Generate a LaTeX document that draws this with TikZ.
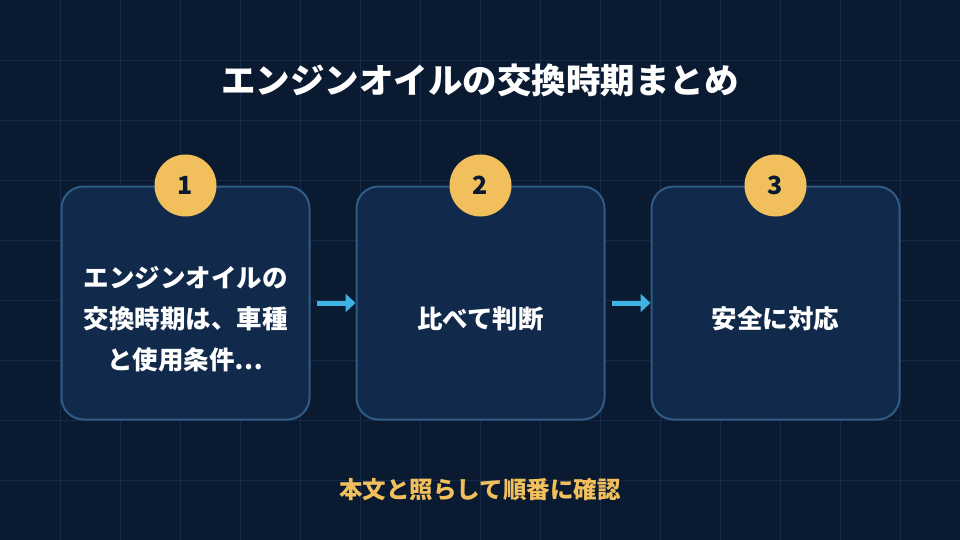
\documentclass[tikz,border=0pt]{standalone}
\usepackage{fontspec}
\setmainfont{Noto Sans CJK JP}
\usetikzlibrary{positioning,arrows.meta}
\definecolor{bgcol}{HTML}{0A1A31}
\definecolor{gridcol}{HTML}{15294A}
\definecolor{cardcol}{HTML}{112A4B}
\definecolor{edgecol}{HTML}{2F5B84}
\definecolor{goldcol}{HTML}{F1C05C}
\definecolor{arrowcol}{HTML}{3FB3E6}
\tikzset{
  card/.style={draw=edgecol,line width=2pt,fill=cardcol,rounded corners=22pt,
    minimum width=248pt,minimum height=233pt,inner sep=0pt},
  cardtext/.style={text=white,font=\fontsize{25.5}{41}\selectfont\bfseries,
    align=center,inner sep=0pt},
  badge/.style={circle,fill=goldcol,minimum size=62pt,inner sep=0pt,
    text=bgcol,font=\fontsize{25}{25}\selectfont\bfseries},
  flow/.style={arrowcol,line width=5pt,-{Triangle[length=10pt,width=18pt]}}
}
\begin{document}
\begin{tikzpicture}[x=1pt,y=-1pt]
        %%% BACKGROUND %%%
        \fill[bgcol] (0,0) rectangle (960,540);
        \useasboundingbox (0,0) rectangle (960,540);
        \foreach \gx in {60,120,...,900} \draw[gridcol] (\gx,0)--(\gx,540);
        \foreach \gy in {60,120,...,480} \draw[gridcol] (0,\gy)--(960,\gy);

        %%% TITLE %%%
        \node[text=white,font=\fontsize{34.5}{34.5}\selectfont\bfseries] (title) at (480,80) {エンジンオイルの交換時期まとめ};

        %%% CARDS %%%
        \node[card] (c1) at (185.5,303) {};
        \node[card] (c2) at (480.5,303) {};
        \node[card] (c3) at (775.5,303) {};
        \node[cardtext] (t1) at (185.5,319) {エンジンオイルの\\交換時期は、車種\\と使用条件…};
        \node[cardtext] (t2) at (480.5,319) {比べて判断};
        \node[cardtext] (t3) at (775.5,319) {安全に対応};
        \foreach \k in {1,2,3} \node[badge] (b\k) at (c\k.north) {\k};

        %%% ARROWS %%%
        \draw[flow] (c1.east)++(6,0) coordinate (a1) -- (c2.west);
        \draw[flow] (c2.east)++(6,0) coordinate (a2) -- (c3.west);

        %%% FOOTER %%%
        \node[text=goldcol,font=\fontsize{23.5}{23.5}\selectfont\bfseries] (foot) at (480,490) {本文と照らして順番に確認};
    \end{tikzpicture}
\end{document}
